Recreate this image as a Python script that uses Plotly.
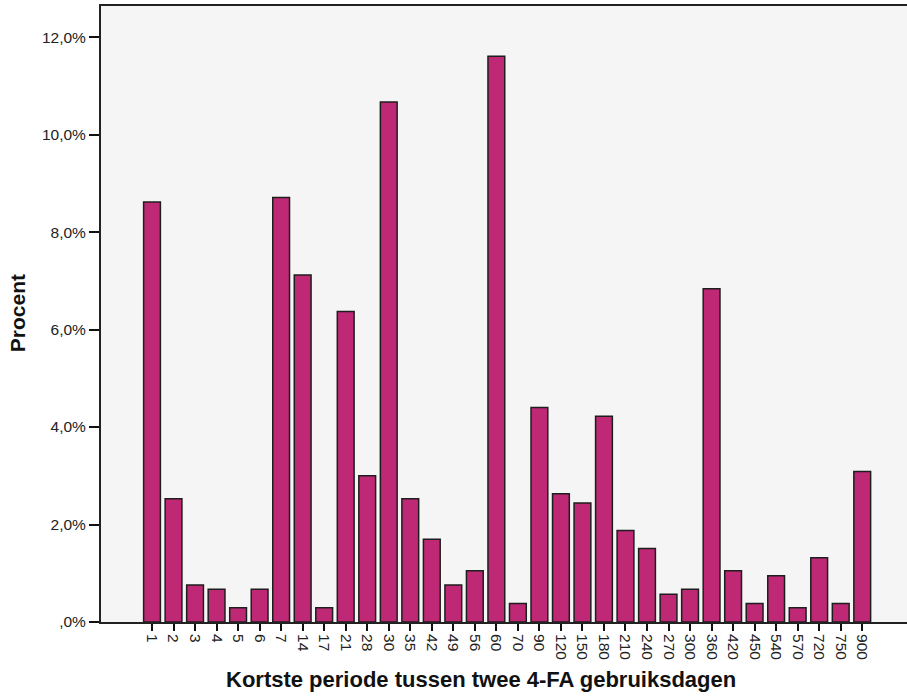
import plotly.graph_objects as go

categories = ["1", "2", "3", "4", "5", "6", "7", "14", "17", "21", "28", "30", "35", "42",
              "49", "56", "60", "70", "90", "120", "150", "180", "210", "240", "270", "300",
              "360", "420", "450", "540", "570", "720", "750", "900"]
percent = [8.62, 2.53, 0.76, 0.67, 0.29, 0.67, 8.71, 7.12, 0.29, 6.37, 3.00, 10.67, 2.53, 1.70,
           0.76, 1.05, 11.61, 0.38, 4.40, 2.63, 2.44, 4.22, 1.88, 1.51, 0.57, 0.67,
           6.84, 1.05, 0.38, 0.95, 0.29, 1.32, 0.38, 3.09]
y_tick_vals = [0, 2, 4, 6, 8, 10, 12]
y_tick_text = [",0%", "2,0%", "4,0%", "6,0%", "8,0%", "10,0%", "12,0%"]

xpos = list(range(len(categories)))

fig = go.Figure(go.Bar(
    x=xpos, y=percent, width=0.78,
    marker=dict(color="#BE2875", line=dict(color="#1e1e1e", width=1.5)),
))

font_family = "Liberation Sans, Arial, sans-serif"
fig.update_layout(
    width=907, height=696,
    margin=dict(l=101, r=0, t=6, b=74),
    paper_bgcolor="white", plot_bgcolor="#F5F5F5",
    showlegend=False,
    font=dict(family=font_family, color="#222222"),
    xaxis=dict(
        range=[-2.37, 35.08], tickmode="array", tickvals=xpos, ticktext=categories,
        tickangle=90, ticks="outside", ticklen=7, tickwidth=2, tickcolor="#111",
        tickfont=dict(size=15.5, family=font_family, color="#222"),
        showline=True, linecolor="#222", linewidth=2, mirror=True,
        showgrid=False, zeroline=False, fixedrange=True,
    ),
    yaxis=dict(
        range=[0, 12.64], tickmode="array", tickvals=y_tick_vals, ticktext=y_tick_text,
        ticks="outside", ticklen=10, tickwidth=2, tickcolor="#111",
        tickfont=dict(size=15.5, family=font_family, color="#222"),
        showline=True, linecolor="#222", linewidth=2,
        showgrid=False, zeroline=False, fixedrange=True,
    ),
    annotations=[
        dict(text="<b>Kortste periode tussen twee 4-FA gebruiksdagen</b>",
             xref="paper", yref="paper", x=0.4715, y=-0.093,
             xanchor="center", yanchor="middle", showarrow=False,
             font=dict(size=22, family=font_family, color="#111")),
        dict(text="<b>Procent</b>", textangle=-90,
             xref="paper", yref="paper", x=-0.104, y=0.5016,
             xanchor="center", yanchor="middle", showarrow=False,
             font=dict(size=21, family=font_family, color="#111")),
    ],
)

fig.write_html("out.html", config={"displayModeBar": False},
               post_script="document.body.style.margin='0px';document.body.style.padding='0px';")
